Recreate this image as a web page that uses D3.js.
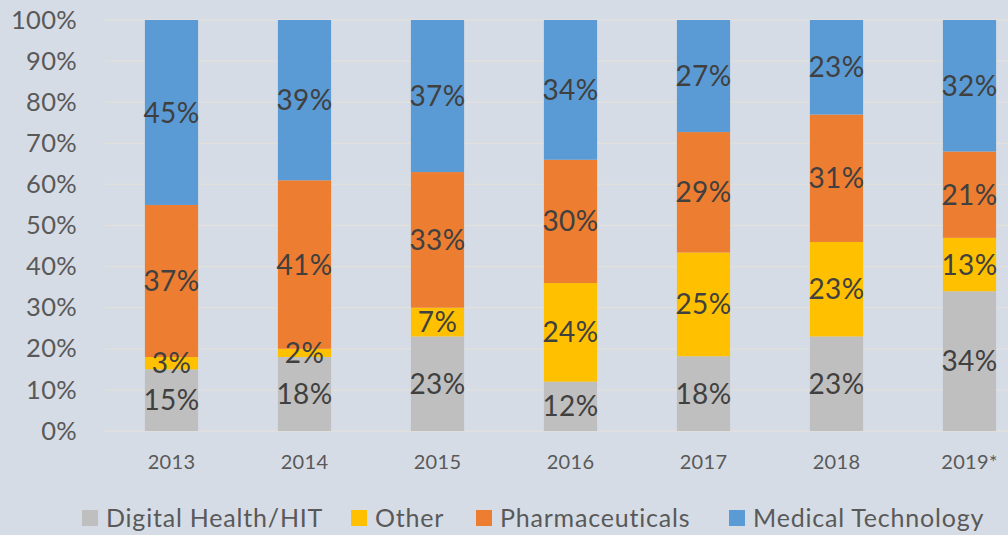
<!DOCTYPE html>
<html>
<head>
<meta charset="utf-8">
<script src="https://cdn.jsdelivr.net/npm/d3@7"></script>
<style>
  body { margin: 0; background: #d6dce5; }
  svg { display: block; font-family: Lato, "Liberation Sans", sans-serif; }
</style>
</head>
<body>
<script>
const years = ["2013", "2014", "2015", "2016", "2017", "2018", "2019*"];
const seriesNames = ["Digital Health/HIT", "Other", "Pharmaceuticals", "Medical Technology"];
const digitalHealth = [15, 18, 23, 12, 18, 23, 34];
const other = [3, 2, 7, 24, 25, 23, 13];
const pharma = [37, 41, 33, 30, 29, 31, 21];
const medTech = [45, 39, 37, 34, 27, 23, 32];
const yTicks = [0, 0.1, 0.2, 0.3, 0.4, 0.5, 0.6, 0.7, 0.8, 0.9, 1];
const colors = ["#bfbfbf", "#ffc000", "#ed7d31", "#5b9bd5"];

const W = 1008, H = 535;
const plotLeft = 105, plotTop = 20, plotBottom = 431;

const rows = years.map((y, i) => ({
  year: y,
  "Digital Health/HIT": digitalHealth[i],
  "Other": other[i],
  "Pharmaceuticals": pharma[i],
  "Medical Technology": medTech[i]
}));

// 100% stacked, same as the source (2017 only sums to 99)
const stacked = d3.stack().keys(seriesNames).offset(d3.stackOffsetExpand)(rows);

const x = d3.scaleBand().domain(years).range([plotLeft, plotLeft + 7 * 133]).paddingInner(0.6).paddingOuter(0.3);
const y = d3.scaleLinear().domain([0, 1]).range([plotBottom, plotTop]);

const svg = d3.select("body").append("svg").attr("width", W).attr("height", H);

// gridlines
svg.append("g").selectAll("line")
  .data(yTicks)
  .join("line")
  .attr("x1", plotLeft).attr("x2", W)
  .attr("y1", d => y(d)).attr("y2", d => y(d))
  .attr("stroke", "#e2e0dc").attr("stroke-width", 1.3);

// y axis labels
const yAxis = svg.append("g")
  .attr("transform", "translate(" + (plotLeft - 12) + ",0)")
  .call(d3.axisLeft(y).tickValues(yTicks).tickFormat(d3.format(".0%")).tickSize(0).tickPadding(16));
yAxis.select(".domain").remove();
yAxis.selectAll("text").attr("font-size", 25.5).attr("fill", "#595959").attr("letter-spacing", 0.3);
yAxis.attr("font-family", null);

// x axis labels
const xAxis = svg.append("g")
  .attr("transform", "translate(0," + plotBottom + ")")
  .call(d3.axisBottom(x).tickSize(0).tickPadding(24));
xAxis.select(".domain").remove();
xAxis.selectAll("text").attr("font-size", 20).attr("fill", "#595959").attr("letter-spacing", 0.3);
xAxis.attr("font-family", null);

// bars
const layers = svg.append("g").selectAll("g")
  .data(stacked)
  .join("g")
  .attr("fill", (d, i) => colors[i]);

layers.selectAll("rect")
  .data(d => d)
  .join("rect")
  .attr("x", d => x(d.data.year))
  .attr("width", x.bandwidth())
  .attr("y", d => y(d[1]))
  .attr("height", d => y(d[0]) - y(d[1]));

// data labels
const labels = svg.append("g");
stacked.forEach(s => {
  labels.append("g").selectAll("text")
    .data(s)
    .join("text")
    .attr("x", d => x(d.data.year) + x.bandwidth() / 2)
    .attr("y", d => y((d[0] + d[1]) / 2))
    .attr("dy", "0.36em")
    .attr("text-anchor", "middle")
    .attr("font-size", 28)
    .attr("letter-spacing", 0.3)
    .attr("fill", "#404040")
    .text(d => d.data[s.key] + "%");
});

// legend
const legendX = [82, 351, 476, 729];
const legend = svg.append("g").selectAll("g")
  .data(seriesNames)
  .join("g")
  .attr("transform", (d, i) => "translate(" + legendX[i] + ",510)");
legend.append("rect").attr("width", 16).attr("height", 16).attr("fill", (d, i) => colors[i]);
legend.append("text")
  .attr("x", 24).attr("y", 8).attr("dy", "0.36em")
  .attr("font-size", 25).attr("letter-spacing", 0.8).attr("fill", "#595959")
  .text(d => d);
</script>
</body>
</html>
